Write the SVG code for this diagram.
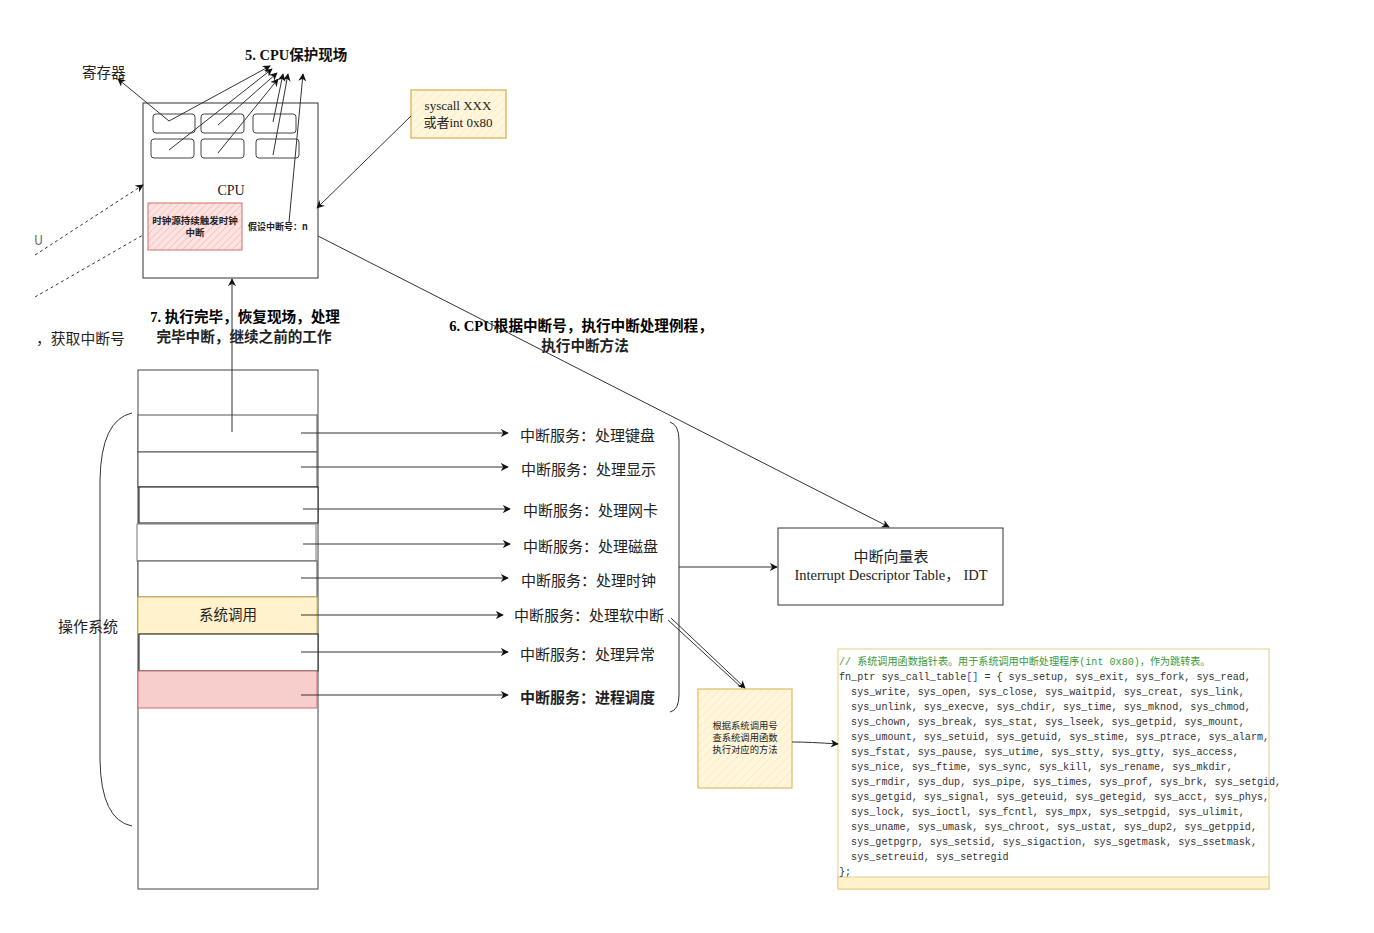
<svg xmlns="http://www.w3.org/2000/svg" width="1374" height="933" viewBox="0 0 1374 933">
<defs>
<style>
.ln{stroke:#333;stroke-width:1;fill:none}
.dash{stroke:#333;stroke-width:1;fill:none;stroke-dasharray:3,3}
.sans{font-family:"Noto Sans CJK SC","Liberation Sans",sans-serif;fill:#222}
.serif{font-family:"Liberation Serif","Noto Sans CJK SC",serif;fill:#222}
.mono{font-family:"Liberation Mono","Noto Sans CJK SC",monospace;font-size:10.1px;fill:#333}
.svc{font-family:"Noto Sans CJK SC","Liberation Sans",sans-serif;font-size:15px;fill:#222}
.cell{fill:#fff;stroke:#555;stroke-width:1}
.reg{fill:#fff;stroke:#444;stroke-width:1}
</style>
<marker id="arr" viewBox="0 0 10 10" refX="9" refY="5" markerWidth="8" markerHeight="8" markerUnits="userSpaceOnUse" orient="auto">
<path d="M0,0 L10,5 L0,10 L3,5 z" fill="#111"/>
</marker>
<pattern id="hatchR" width="5" height="5" patternUnits="userSpaceOnUse" patternTransform="rotate(45)">
<rect width="5" height="5" fill="#fbe3e2"/>
<line x1="0" y1="0" x2="0" y2="5" stroke="#f2aaa8" stroke-width="1"/>
</pattern>
<pattern id="hatchY" width="6" height="6" patternUnits="userSpaceOnUse" patternTransform="rotate(45)">
<rect width="6" height="6" fill="#fff6dc"/>
<line x1="0" y1="0" x2="0" y2="6" stroke="#f5e3b0" stroke-width="1"/>
</pattern>
</defs>

<rect width="1374" height="933" fill="#fff"/>

<g id="cpu">
<rect x="143" y="103" width="175" height="175" fill="#fff" stroke="#333"/>
<rect class="reg" x="153" y="114" width="42" height="19" rx="3"/>
<rect class="reg" x="201" y="114" width="43" height="19" rx="3"/>
<rect class="reg" x="253" y="114" width="43" height="19" rx="3"/>
<rect class="reg" x="151" y="139" width="43" height="19" rx="3"/>
<rect class="reg" x="201" y="139" width="43" height="19" rx="3"/>
<rect class="reg" x="256" y="139" width="43" height="19" rx="3"/>
<text class="serif" x="231" y="195" font-size="14" text-anchor="middle">CPU</text>
</g>

<g id="clock">
<rect x="148" y="203" width="94" height="47" fill="url(#hatchR)" stroke="#d0706c"/>
<text class="sans" x="195" y="224" font-size="9.5" font-weight="bold" text-anchor="middle">时钟源持续触发时钟</text>
<text class="sans" x="195" y="236" font-size="9.5" font-weight="bold" text-anchor="middle">中断</text>
</g>
<text class="sans" x="248" y="230" font-size="9" font-weight="bold">假设中断号：n</text>

<text class="sans" x="82" y="78" font-size="14.5">寄存器</text>
<text x="245" y="60" font-size="14.5" font-weight="bold"><tspan font-family="Liberation Serif,serif" fill="#111">5. CPU</tspan><tspan font-family="Noto Sans CJK SC,sans-serif" fill="#111">保护现场</tspan></text>

<g id="syscall">
<rect x="411" y="90" width="95" height="48" fill="url(#hatchY)" stroke="#d6b656" stroke-width="1.3"/>
<text class="serif" x="458" y="110" font-size="13" text-anchor="middle">syscall XXX</text>
<text class="serif" x="458" y="127" font-size="13" text-anchor="middle">或者int 0x80</text>
</g>

<text class="sans" x="34" y="245" font-size="12.5" style="fill:#666">U</text>
<text class="sans" x="36" y="344" font-size="14.8">，获取中断号</text>

<text x="245" y="322" font-size="14.6" font-weight="bold" text-anchor="middle"><tspan font-family="Liberation Serif,serif">7. </tspan><tspan font-family="Noto Sans CJK SC,sans-serif">执行完毕，恢复现场，处理</tspan></text>
<text class="sans" x="244" y="342" font-size="14.6" font-weight="bold" text-anchor="middle">完毕中断，继续之前的工作</text>

<text x="581" y="331" font-size="14.6" font-weight="bold" text-anchor="middle"><tspan font-family="Liberation Serif,serif">6. CPU</tspan><tspan font-family="Noto Sans CJK SC,sans-serif">根据中断号，执行中断处理例程，</tspan></text>
<text class="sans" x="585" y="351" font-size="14.6" font-weight="bold" text-anchor="middle">执行中断方法</text>

<g id="memory">
<rect x="138" y="370" width="180" height="519" fill="#fff" stroke="#444"/>
<rect class="cell" x="138" y="415" width="179" height="37"/>
<rect class="cell" x="138" y="452" width="179" height="35"/>
<rect x="139" y="487" width="179" height="36" fill="#fff" stroke="#111"/>
<rect x="137" y="524" width="179" height="37" fill="#fff" stroke="#777"/>
<rect class="cell" x="138" y="561" width="179" height="36"/>
<rect x="138" y="597" width="179" height="37" fill="#fff2cc" stroke="#d6b656"/>
<text class="sans" x="228" y="620" font-size="14.5" text-anchor="middle">系统调用</text>
<rect x="139" y="634" width="179" height="37" fill="#fff" stroke="#111"/>
<rect x="138" y="671" width="179" height="37" fill="#f8cecc" stroke="#c8706c"/>
</g>

<g id="os-brace">
<path class="ln" d="M132,413 Q101,420 100,480 L100,760 Q101,820 132,826" stroke="#555"/>
<text class="sans" x="58" y="632" font-size="15">操作系统</text>
</g>

<g id="services">
<text class="svc" x="520" y="441">中断服务：处理键盘</text>
<text class="svc" x="521" y="475">中断服务：处理显示</text>
<text class="svc" x="523" y="516">中断服务：处理网卡</text>
<text class="svc" x="523" y="552">中断服务：处理磁盘</text>
<text class="svc" x="521" y="586">中断服务：处理时钟</text>
<text class="svc" x="514" y="621">中断服务：处理软中断</text>
<text class="svc" x="520" y="660">中断服务：处理异常</text>
<text class="svc" x="520" y="703" font-weight="bold">中断服务：进程调度</text>
<path class="ln" d="M670,422 Q679,425 679,440 L679,695 Q679,710 670,712" stroke="#555"/>
</g>

<g id="idt">
<rect x="778" y="528" width="225" height="77" fill="#fff" stroke="#333"/>
<text class="sans" x="891" y="562" font-size="15" text-anchor="middle">中断向量表</text>
<text class="serif" x="891" y="580" font-size="14.5" text-anchor="middle">Interrupt Descriptor Table， IDT</text>
</g>

<g id="lookup">
<rect x="698" y="689" width="94" height="99" fill="url(#hatchY)" stroke="#e0c070" stroke-width="1.3"/>
<text class="sans" x="745" y="729" font-size="9.3" text-anchor="middle">根据系统调用号</text>
<text class="sans" x="745" y="741" font-size="9.3" text-anchor="middle">查系统调用函数</text>
<text class="sans" x="745" y="753" font-size="9.3" text-anchor="middle">执行对应的方法</text>
</g>

<g id="code">
<rect x="838" y="649" width="431" height="240" fill="#fff" stroke="#e6cc85"/>
<rect x="838" y="877" width="431" height="12" fill="#fff2cc" stroke="#e6cc85"/>
<text class="mono" x="839" y="665" style="fill:#3a9a3a">// 系统调用函数指针表。用于系统调用中断处理程序(int 0x80)，作为跳转表。</text>
<text class="mono" x="839" y="680" xml:space="preserve">fn_ptr sys_call_table<tspan style="fill:#3050c0">[]</tspan> = { sys_setup, sys_exit, sys_fork, sys_read,</text>
<text class="mono" x="839" y="695" xml:space="preserve">  sys_write, sys_open, sys_close, sys_waitpid, sys_creat, sys_link,</text>
<text class="mono" x="839" y="710" xml:space="preserve">  sys_unlink, sys_execve, sys_chdir, sys_time, sys_mknod, sys_chmod,</text>
<text class="mono" x="839" y="725" xml:space="preserve">  sys_chown, sys_break, sys_stat, sys_lseek, sys_getpid, sys_mount,</text>
<text class="mono" x="839" y="740" xml:space="preserve">  sys_umount, sys_setuid, sys_getuid, sys_stime, sys_ptrace, sys_alarm,</text>
<text class="mono" x="839" y="755" xml:space="preserve">  sys_fstat, sys_pause, sys_utime, sys_stty, sys_gtty, sys_access,</text>
<text class="mono" x="839" y="770" xml:space="preserve">  sys_nice, sys_ftime, sys_sync, sys_kill, sys_rename, sys_mkdir,</text>
<text class="mono" x="839" y="785" xml:space="preserve">  sys_rmdir, sys_dup, sys_pipe, sys_times, sys_prof, sys_brk, sys_setgid,</text>
<text class="mono" x="839" y="800" xml:space="preserve">  sys_getgid, sys_signal, sys_geteuid, sys_getegid, sys_acct, sys_phys,</text>
<text class="mono" x="839" y="815" xml:space="preserve">  sys_lock, sys_ioctl, sys_fcntl, sys_mpx, sys_setpgid, sys_ulimit,</text>
<text class="mono" x="839" y="830" xml:space="preserve">  sys_uname, sys_umask, sys_chroot, sys_ustat, sys_dup2, sys_getppid,</text>
<text class="mono" x="839" y="845" xml:space="preserve">  sys_getpgrp, sys_setsid, sys_sigaction, sys_sgetmask, sys_ssetmask,</text>
<text class="mono" x="839" y="860" xml:space="preserve">  sys_setreuid, sys_setregid</text>
<text class="mono" x="839" y="875">};</text>
</g>

<g id="connectors">
<line class="ln" x1="169" y1="121" x2="118" y2="79" marker-end="url(#arr)"/>
<line class="ln" x1="169" y1="121" x2="270" y2="66" marker-end="url(#arr)"/>
<line class="ln" x1="169" y1="150" x2="272" y2="69" marker-end="url(#arr)"/>
<line class="ln" x1="218" y1="125" x2="277" y2="73" marker-end="url(#arr)"/>
<line class="ln" x1="218" y1="153" x2="278" y2="79" marker-end="url(#arr)"/>
<line class="ln" x1="273" y1="122" x2="283" y2="74" marker-end="url(#arr)"/>
<line class="ln" x1="273" y1="155" x2="288" y2="74" marker-end="url(#arr)"/>
<line class="ln" x1="289" y1="222" x2="303" y2="74" marker-end="url(#arr)"/>
<line class="ln" x1="411" y1="116" x2="317" y2="208" marker-end="url(#arr)"/>
<line class="ln" x1="318" y1="236" x2="889" y2="527" marker-end="url(#arr)"/>
<line class="dash" x1="35" y1="255" x2="143" y2="185" marker-end="url(#arr)"/>
<line class="dash" x1="35" y1="297" x2="143" y2="235"/>
<line class="ln" x1="232" y1="432" x2="232" y2="279" marker-end="url(#arr)"/>
<line class="ln" x1="301" y1="433" x2="508" y2="433" marker-end="url(#arr)"/>
<line class="ln" x1="301" y1="467" x2="508" y2="467" marker-end="url(#arr)"/>
<line class="ln" x1="303" y1="509" x2="510" y2="509" marker-end="url(#arr)"/>
<line class="ln" x1="303" y1="544" x2="510" y2="544" marker-end="url(#arr)"/>
<line class="ln" x1="301" y1="578" x2="508" y2="578" marker-end="url(#arr)"/>
<line class="ln" x1="301" y1="615" x2="503" y2="615" marker-end="url(#arr)"/>
<line class="ln" x1="301" y1="652" x2="508" y2="652" marker-end="url(#arr)"/>
<line class="ln" x1="301" y1="695" x2="508" y2="695" marker-end="url(#arr)"/>
<line class="ln" x1="679" y1="567" x2="777" y2="567" marker-end="url(#arr)"/>
<line class="ln" x1="668" y1="620" x2="742" y2="688"/>
<line class="ln" x1="671" y1="618" x2="745" y2="688" marker-end="url(#arr)"/>
<path class="ln" d="M792,742 Q810,742 838,744" marker-end="url(#arr)"/>
</g>
</svg>
